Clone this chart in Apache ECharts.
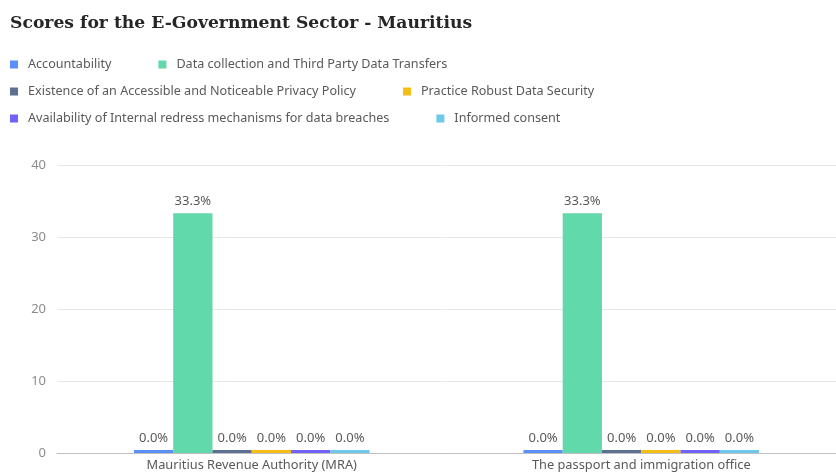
<!DOCTYPE html>
<html>
<head>
<meta charset="utf-8">
<script src="https://cdn.jsdelivr.net/npm/echarts@6/dist/echarts.min.js"></script>
<style>
html,body{margin:0;padding:0;background:#fff;}
#chart{width:836px;height:475px;}
</style>
</head>
<body>
<div id="chart"></div>
<script>
const categories = ["Mauritius Revenue Authority (MRA)", "The passport and immigration office"];
const seriesNames = [
  "Accountability",
  "Data collection and Third Party Data Transfers",
  "Existence of an Accessible and Noticeable Privacy Policy",
  "Practice Robust Data Security",
  "Availability of Internal redress mechanisms for data breaches",
  "Informed consent"
];
const accountability = [0, 0];
const dataCollection = [33.3, 33.3];
const privacyPolicy = [0, 0];
const dataSecurity = [0, 0];
const redress = [0, 0];
const informedConsent = [0, 0];
const yTicks = [0, 10, 20, 30, 40];

const colors = ["#5B8FF9", "#61D9AB", "#5D7092", "#F6BD16", "#7262FD", "#6DC8EC"];
const values = [accountability, dataCollection, privacyPolicy, dataSecurity, redress, informedConsent];
const font = "'Noto Sans', sans-serif";

const chart = echarts.init(document.getElementById('chart'));
const legendBase = {
  left: 10, padding: 0, itemWidth: 8, itemHeight: 8, icon: 'rect', itemGap: 47,
  textStyle: { color: '#595959', fontSize: 12.6, fontFamily: font, padding: [0, 0, 0, 5] },
  selectedMode: false
};
chart.setOption({
  animation: false,
  title: {
    text: "Scores for the E-Government Sector - Mauritius",
    left: 5, top: 10,
    textStyle: { fontFamily: "'DejaVu Serif', serif", fontWeight: 'bold', fontSize: 17.2, color: '#262626' }
  },
  legend: [
    Object.assign({}, legendBase, { top: 58, data: [seriesNames[0], seriesNames[1]] }),
    Object.assign({}, legendBase, { top: 85, data: [seriesNames[2], seriesNames[3]] }),
    Object.assign({}, legendBase, { top: 112, data: [seriesNames[4], seriesNames[5]] })
  ],
  grid: { left: 57, right: -9, top: 165, bottom: 22, containLabel: false },
  xAxis: {
    type: 'category', data: categories,
    axisLine: { lineStyle: { color: '#BFBFBF' } },
    axisTick: { alignWithLabel: true, lineStyle: { color: '#BFBFBF' }, length: 4 },
    axisLabel: { color: '#595959', fontSize: 12.8, fontFamily: font, margin: 6 }
  },
  yAxis: {
    type: 'value', min: yTicks[0], max: yTicks[yTicks.length - 1], interval: 10,
    axisLine: { show: false }, axisTick: { show: false },
    axisLabel: { color: '#8C8C8C', fontSize: 13, fontFamily: font, margin: 11 },
    splitLine: { lineStyle: { color: '#E8E8E8' } }
  },
  series: seriesNames.map((n, i) => ({
    name: n, type: 'bar', data: values[i],
    barGap: '0%', barCategoryGap: '39.5%', barMinHeight: 3,
    itemStyle: { color: colors[i] },
    label: {
      show: true, position: 'top', distance: 5,
      color: '#595959', fontSize: 13, fontFamily: font,
      formatter: p => p.value.toFixed(1) + '%'
    }
  }))
});
</script>
</body>
</html>
